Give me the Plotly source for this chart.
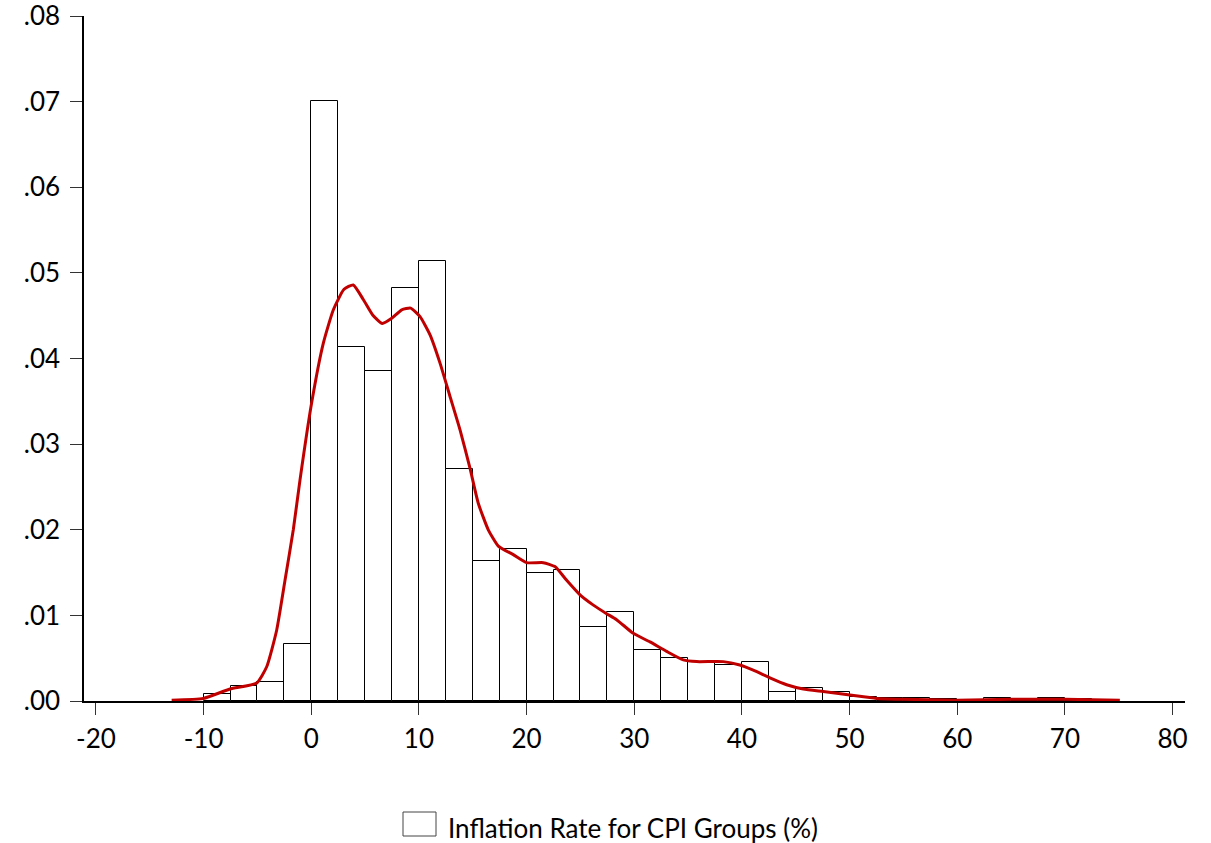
import plotly.graph_objects as go

# Histogram bins (left edges, width 2.5) and densities
bin_left = [-10, -7.5, -5, -2.5, 0, 2.5, 5, 7.5, 10, 12.5, 15, 17.5, 20, 22.5, 25, 27.5,
            30, 32.5, 35, 37.5, 40, 42.5, 45, 47.5, 50, 52.5, 55, 57.5, 60, 62.5, 65,
            67.5, 70, 72.5]
density = [0.0008, 0.0018, 0.0022, 0.0067, 0.0701, 0.0413, 0.0386, 0.0483, 0.0514, 0.0271,
           0.0164, 0.0178, 0.0149, 0.0153, 0.0087, 0.0104, 0.0060, 0.0050, 0.0045, 0.0042,
           0.0046, 0.0011, 0.0015, 0.0011, 0.0005, 0.0003, 0.0003, 0.0002, 0.0001, 0.0003,
           0.0002, 0.0003, 0.0002, 0.0001]
bin_width = 2.5

# Kernel density curve
kde_x = [-12.97, -10.03, -7.55, -5.07, -4.14, -3.21, -2.44, -1.67, -1.05, 0.03, 1.12, 2.05,
         3.04, 3.9, 4.83, 5.7, 6.6, 7.47, 8.4, 9.23, 10.1, 11.02, 11.95, 12.88, 13.81,
         14.74, 15.51, 16.44, 17.37, 18.76, 20.0, 21.55, 22.63, 23.72, 24.96, 26.2, 27.43,
         28.36, 29.9, 31.46, 33.0, 34.55, 35.8, 38.27, 39.8, 41.05, 42.6, 44.15, 45.7,
         47.55, 50.03, 52.5, 55.0, 60.0, 65.0, 70.0, 75.1]
kde_y = [0.0001, 0.0003, 0.0014, 0.0021, 0.0040, 0.0083, 0.0141, 0.0200, 0.0258, 0.0348,
         0.0418, 0.0457, 0.0481, 0.0486, 0.0469, 0.0451, 0.0441, 0.0447, 0.0457, 0.0459,
         0.0449, 0.0428, 0.0395, 0.0356, 0.0317, 0.0272, 0.0231, 0.0200, 0.0181, 0.0171,
         0.01616, 0.01616, 0.0157, 0.0141, 0.0124, 0.0112, 0.0102, 0.0095, 0.0079, 0.0069,
         0.0058, 0.0048, 0.0046, 0.0046, 0.0042, 0.0036, 0.0027, 0.0019, 0.0014, 0.0011,
         0.0007, 0.0003, 0.0002, 0.0001, 0.0002, 0.0002, 0.0001]

x_ticks = [-20, -10, 0, 10, 20, 30, 40, 50, 60, 70, 80]
x_ticktext = ["-20", "-10", "0", "10", "20", "30", "40", "50", "60", "70", "80"]
y_ticks = [0.0, 0.01, 0.02, 0.03, 0.04, 0.05, 0.06, 0.07, 0.08]
y_ticktext = [".00", ".01", ".02", ".03", ".04", ".05", ".06", ".07", ".08"]
legend_label = "Inflation Rate for CPI Groups (%)"

centers = [b + bin_width / 2 for b in bin_left]

fig = go.Figure()
fig.add_trace(go.Bar(
    x=centers, y=density, width=[bin_width] * len(centers),
    marker=dict(color="white", line=dict(color="black", width=1)),
    name=legend_label, showlegend=False, hoverinfo="x+y"))
fig.add_trace(go.Scatter(
    x=kde_x, y=kde_y, mode="lines",
    line=dict(color="#C00000", width=3, shape="spline", smoothing=0.5),
    showlegend=False))

W, H = 1211, 843
L, R, T, B = 84, 26, 16, 142
pw, ph = W - L - R, H - T - B

def px_x(p):
    return (p - L) / pw

def px_y(p):
    return (H - B - p) / ph

fig.add_shape(type="rect", xref="paper", yref="paper",
              x0=px_x(403), x1=px_x(436), y0=px_y(836), y1=px_y(812),
              line=dict(color="#444444", width=1), fillcolor="white")
fig.add_annotation(xref="paper", yref="paper", x=px_x(446), y=px_y(828),
                   xanchor="left", yanchor="middle", showarrow=False,
                   text=legend_label, font=dict(size=26, color="black"))

fig.update_layout(
    width=W, height=H,
    margin=dict(l=L, r=R, t=T, b=B, pad=0),
    paper_bgcolor="white", plot_bgcolor="white",
    font=dict(family="Lato, Calibri, sans-serif", size=26, color="black"),
    bargap=0,
    xaxis=dict(range=[-21.11, 81.15], tickvals=x_ticks, ticktext=x_ticktext,
               ticks="outside", ticklen=12, tickwidth=1, tickcolor="#333333",
               showline=True, linecolor="black", linewidth=1.5, showgrid=False,
               zeroline=False, fixedrange=True, automargin=False,
               ticklabelstandoff=2, ticklabeloverflow="allow", tickfont=dict(size=26)),
    yaxis=dict(range=[0, 0.08002], tickvals=y_ticks, ticktext=y_ticktext, ticks="outside",
               ticklen=12, tickwidth=1, tickcolor="#333333", showline=True,
               linecolor="black", linewidth=1.5, showgrid=False, zeroline=False,
               fixedrange=True, automargin=False, ticklabelstandoff=5,
               ticklabeloverflow="allow", tickfont=dict(size=26)),
)

fig.write_html("out.html")
